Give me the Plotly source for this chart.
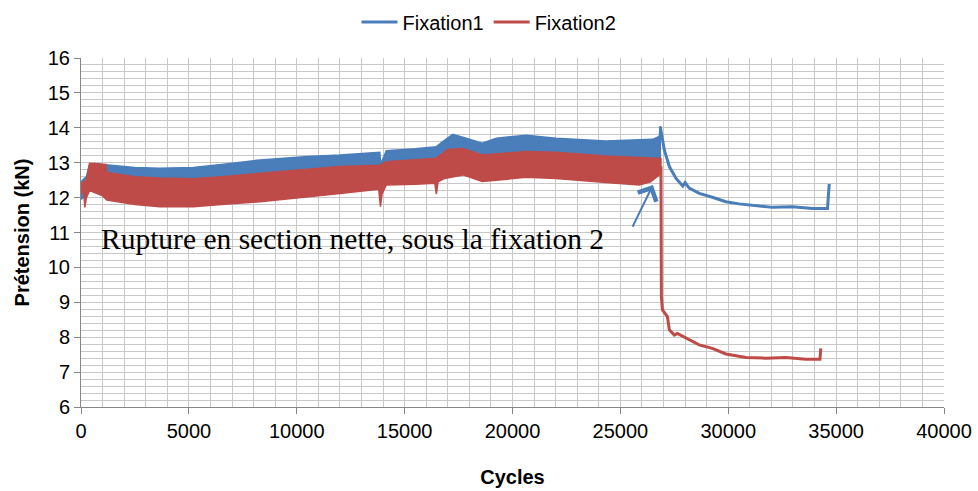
import plotly.graph_objects as go

# --- Fixation 1 : cyclic band (envelope of the oscillation) ---
f1_band_cycles_up = [0, 250, 400, 700, 1000, 1500, 2500, 3650, 5200, 6500, 8300, 10500,
                     12000, 13850, 13880, 13950, 14150, 15500, 16470, 16800, 17230, 17850,
                     18600, 19250, 20630, 22020, 24340, 26500, 26800, 26850]
f1_band_upper = [12.45, 12.6, 12.97, 12.98, 12.95, 12.92, 12.86, 12.84, 12.86, 12.95, 13.08, 13.18,
                 13.22, 13.3, 13.03, 13.05, 13.34, 13.40, 13.46, 13.62, 13.81, 13.70,
                 13.56, 13.70, 13.79, 13.70, 13.62, 13.67, 13.75, 14.05]
f1_band_cycles_low = [0, 250, 400, 700, 5000, 13800, 17500, 26800, 26850]
f1_band_lower = [11.95, 12.05, 12.3, 12.4, 12.2, 12.6, 13.0, 12.9, 13.0]

# --- Fixation 1 : after rupture ---
f1_tail_cycles = [26850, 27040, 27270, 27580, 27890, 28000, 28190, 28660, 29260, 29890,
                  30500, 31280, 32050, 32980, 33900, 34600, 34680]
f1_tail = [14.03, 13.36, 12.89, 12.55, 12.33, 12.43, 12.27, 12.12, 12.01, 11.88,
           11.82, 11.76, 11.72, 11.74, 11.69, 11.69, 12.39]

# --- Fixation 2 : cyclic band ---
f2_band_cycles_up = [0, 250, 400, 1150, 1200, 2500, 3650, 5200, 6500, 8300, 10500, 12000,
                     13850, 14150, 16470, 17000, 17700, 18600, 20630, 22000, 24340, 26800, 26880]
f2_band_upper = [12.4, 12.5, 12.98, 12.95, 12.72, 12.6, 12.56, 12.54, 12.6, 12.70, 12.82, 12.89,
                 12.93, 13.03, 13.13, 13.38, 13.41, 13.22, 13.32, 13.3, 13.19, 13.13, 13.12]
f2_band_cycles_low = [0, 120, 180, 250, 400, 1000, 1200, 2500, 3650, 5200, 6500, 8300, 10500,
                      12000, 13800, 13880, 13950, 14150, 15500, 16400, 16470, 16550, 16850,
                      17700, 18600, 20630, 22020, 24340, 25880, 26400, 26800, 26880]
f2_band_lower = [12.1, 12.2, 11.72, 12.0, 12.2, 12.05, 11.93, 11.8, 11.74, 11.74, 11.8, 11.88, 12.02,
                 12.12, 12.24, 11.74, 12.1, 12.36, 12.38, 12.41, 12.10, 12.45, 12.55,
                 12.65, 12.46, 12.58, 12.55, 12.43, 12.36, 12.45, 12.65, 12.7]

# --- Fixation 2 : after rupture ---
f2_tail_cycles = [26880, 26900, 26950, 27180, 27270, 27500, 27640, 28040, 28650, 29260,
                  29890, 30820, 31740, 32670, 33600, 34250, 34290]
f2_tail = [12.9, 9.16, 8.78, 8.59, 8.21, 8.06, 8.11, 7.97, 7.78, 7.68,
           7.52, 7.42, 7.40, 7.42, 7.37, 7.37, 7.68]

x_ticks = [0, 5000, 10000, 15000, 20000, 25000, 30000, 35000, 40000]
y_ticks = [6, 7, 8, 9, 10, 11, 12, 13, 14, 15, 16]

BLUE = "#4A7EBB"
RED = "#BE4B48"


def band(cx_up, up, cx_low, low, color, name):
    xs = list(cx_up) + list(reversed(cx_low))
    ys = list(up) + list(reversed(low))
    return go.Scatter(x=xs, y=ys, fill="toself", fillcolor=color, mode="lines",
                      line=dict(color=color, width=1.5), legendgroup=name,
                      showlegend=False, hoverinfo="skip")


fig = go.Figure()
fig.add_trace(band(f1_band_cycles_up, f1_band_upper, f1_band_cycles_low, f1_band_lower, BLUE, "Fixation1"))
fig.add_trace(go.Scatter(x=f1_tail_cycles, y=f1_tail, mode="lines", name="Fixation1",
                         legendgroup="Fixation1", line=dict(color=BLUE, width=3)))
fig.add_trace(band(f2_band_cycles_up, f2_band_upper, f2_band_cycles_low, f2_band_lower, RED, "Fixation2"))
fig.add_trace(go.Scatter(x=f2_tail_cycles, y=f2_tail, mode="lines", name="Fixation2",
                         legendgroup="Fixation2", line=dict(color=RED, width=3)))

# arrow pointing at the rupture zone of fixation 2
fig.add_annotation(x=26510, y=12.36, ax=25530, ay=11.12, xref="x", yref="y",
                   axref="x", ayref="y", text="", showarrow=True, arrowhead=4,
                   arrowsize=2.0, arrowwidth=2, arrowcolor=BLUE)
fig.add_annotation(x=850, y=10.8, xref="x", yref="y", xanchor="left", yanchor="middle",
                   text="Rupture en section nette, sous la fixation 2", showarrow=False,
                   font=dict(family="Liberation Serif", size=29.5, color="#000000"))

GRID = "#c8c8c8"
AXIS = "#868686"
fig.update_xaxes(range=[0, 40000], tickvals=x_ticks, ticktext=[str(v) for v in x_ticks],
                 showgrid=True, gridcolor=GRID, gridwidth=1,
                 minor=dict(dtick=1000, showgrid=True, gridcolor=GRID, gridwidth=1),
                 showline=True, linecolor=AXIS, linewidth=1, ticks="outside", ticklen=6,
                 tickcolor=AXIS, zeroline=False, automargin=False,
                 title=dict(text="<b>Cycles</b>", font=dict(size=20, color="#000000"), standoff=28),
                 tickfont=dict(size=20, color="#000000"))
fig.update_yaxes(range=[6, 16], tickvals=y_ticks, ticktext=[str(v) for v in y_ticks],
                 showgrid=True, gridcolor=GRID, gridwidth=1,
                 minor=dict(dtick=0.2, showgrid=True, gridcolor=GRID, gridwidth=1),
                 showline=True, linecolor=AXIS, linewidth=1, ticks="outside", ticklen=6,
                 tickcolor=AXIS, zeroline=False, automargin=False,
                 title=dict(text="<b>Prétension (kN)</b>", font=dict(size=20, color="#000000"), standoff=12),
                 tickfont=dict(size=20, color="#000000"))

fig.update_layout(
    width=978, height=491,
    margin=dict(l=81, r=34, t=58, b=84, autoexpand=False),
    paper_bgcolor="white", plot_bgcolor="white",
    font=dict(family="Liberation Sans, Arial", color="#000000"),
    legend=dict(orientation="h", x=0.5, xanchor="center", xref="container",
                y=0.995, yanchor="top", yref="container", font=dict(size=20),
                itemwidth=36, bgcolor="rgba(0,0,0,0)"),
)

fig.write_html("out.html")
